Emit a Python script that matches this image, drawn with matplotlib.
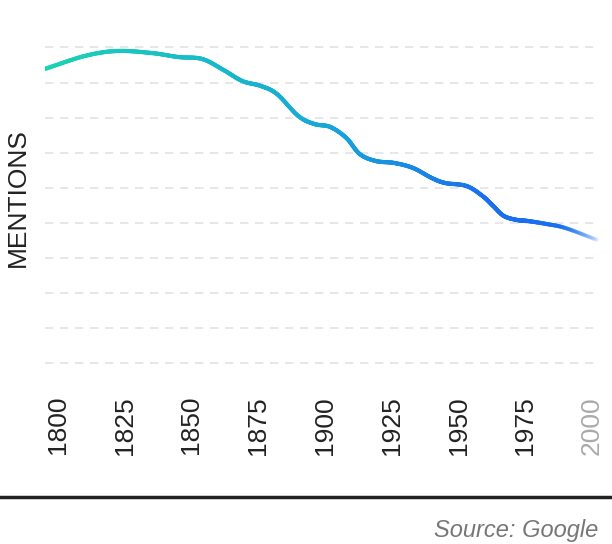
import numpy as np
import matplotlib
matplotlib.use("Agg")
import matplotlib.pyplot as plt
import matplotlib.transforms as mtrans
from matplotlib.collections import LineCollection
from matplotlib.colors import LinearSegmentedColormap, to_rgba

plt.rcParams["font.family"] = "Liberation Sans"

years = [1795, 1810, 1822, 1835, 1845, 1854, 1862, 1869, 1876, 1882, 1890, 1896, 1902, 1908, 1913, 1919, 1926, 1933, 1940, 1945, 1953, 1959, 1963, 1967, 1972, 1976, 1983, 1990, 2002]
mentions = [69, 56, 51, 53, 57, 59, 70, 81, 86, 94, 116, 124, 127, 138, 154, 161, 163, 168, 178, 183, 186, 196, 206, 216, 220, 221, 224, 228, 240]
tick_years = [1800, 1825, 1850, 1875, 1900, 1925, 1950, 1975, 2000]
grid_levels = [47, 83, 118, 153, 188, 223, 258, 293, 328, 363]

def catmull(x, y, n=30):
    x = np.asarray(x, float); y = np.asarray(y, float)
    P = np.column_stack([x, y])
    P = np.vstack([2*P[0]-P[1], P, 2*P[-1]-P[-2]])
    out = []
    for i in range(1, len(P)-2):
        p0, p1, p2, p3 = P[i-1], P[i], P[i+1], P[i+2]
        t = np.linspace(0, 1, n, endpoint=False)[:, None]
        out.append(0.5*((2*p1) + (-p0+p2)*t + (2*p0-5*p1+4*p2-p3)*t**2 + (-p0+3*p1-3*p2+p3)*t**3))
    out.append(P[-2][None, :])
    o = np.vstack(out)
    return o[:, 0], o[:, 1]

W, H = 612, 544
fig = plt.figure(figsize=(W/100, H/100), dpi=100)
ax = fig.add_axes([45/W, 1-375/H, 555/W, 345/H])
x0 = 1800 - 13/2.67
ax.set_xlim(x0, x0 + 555/2.67)
ax.set_ylim(375, 30)
for s in ax.spines.values():
    s.set_visible(False)
ax.set_xticks([]); ax.set_yticks([])
for g in grid_levels:
    ax.axhline(g, color="#e3e3e6", lw=1.2, ls=(0, (5, 4)), zorder=1)

sx, sy = catmull(years, mentions)
pts = np.column_stack([sx, sy]).reshape(-1, 1, 2)
segs = np.concatenate([pts[:-1], pts[1:]], axis=1)
cmap = LinearSegmentedColormap.from_list("g", [(0, to_rgba("#1ad3b4")), (0.5, to_rgba("#17a9d6")), (0.8, to_rgba("#1a6ff0")), (0.86, to_rgba("#1a6ff0")), (1, to_rgba("#1a6ff0", 0.05))])
frac = (sx[:-1] - sx[0]) / (sx[-1] - sx[0])
lc = LineCollection(segs, colors=cmap(frac), linewidth=3, capstyle="round", zorder=3)
ax.add_collection(lc)

tr = mtrans.blended_transform_factory(ax.transData, fig.transFigure)
for yr in tick_years:
    ax.text(yr, 1 - 396/H, str(yr), transform=tr, rotation=90, ha="center", va="top",
            fontsize=19, color="#aaaaaa" if yr == 2000 else "#222222")

fig.text(18/W, 1 - 198/H, "MENTIONS", rotation=90, ha="center", va="center", fontsize=19, color="#222222")
fig.add_artist(plt.Line2D([0, 1], [1 - 497/H, 1 - 497/H], color="#222222", lw=2.5, transform=fig.transFigure))
fig.text(598/W, 1 - 530/H, "Source: Google", ha="right", va="center", fontsize=17, style="italic", color="#777777")
fig.savefig("out.png", dpi=100)
